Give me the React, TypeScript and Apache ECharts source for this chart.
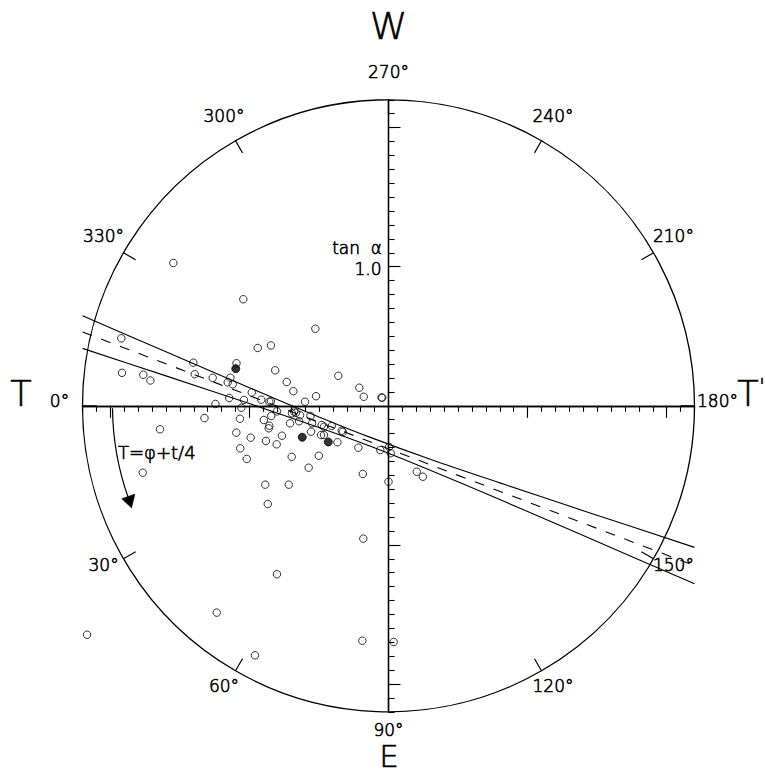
import React, { useEffect, useRef } from "react";
import * as echarts from "echarts";

// open circles: x = amplitude * cos component, y = sin component (tan alpha units)
const openX = [
  -1.547, -1.044, -0.526, -1.921, -0.94, -0.845, -1.403, -1.093, -0.815, -0.361,
  -1.916, -1.763, -1.712, -1.393, -1.264, -1.137, -1.156, -1.12, -0.732, -0.684,
  -0.21, -0.178, -0.05, -0.045, -0.983, -0.915, -0.857, -0.845, -0.521, -0.6,
  -1.04, -1.145, -1.244, -0.802, -0.694, -0.679, -0.665, -0.636, -1.058, -0.896,
  -1.323, -1.068, -0.561, -0.843, -0.643, -0.708, -0.55, -0.557, -0.48, -0.464,
  -0.408, -0.485, -0.464, -0.336, -0.329, -1.094, -0.991, -0.857, -0.861, -0.766,
  -0.881, -0.804, -1.066, -0.696, -0.501, -0.367, -0.217, -0.059, 0.004, 0.016,
  -1.019, -1.643, -1.767, -0.886, -0.717, -0.868, -0.574, -0.185, 0.0, 0.203,
  0.247, -0.181, -0.802, -1.235, -2.167, -0.96, -0.188, 0.037,
];
const openY = [
  1.027, 0.766, 0.554, 0.485, 0.416, 0.434, 0.31, 0.306, 0.255, 0.216,
  0.237, 0.223, 0.182, 0.227, 0.201, 0.202, 0.169, 0.155, 0.171, 0.105,
  0.13, 0.065, 0.06, 0.058, 0.096, 0.044, 0.029, 0.032, 0.069, 0.029,
  0.042, 0.056, 0.013, -0.04, -0.054, -0.041, -0.05, -0.068, -0.014, -0.102,
  -0.088, -0.093, -0.073, -0.073, -0.111, -0.126, -0.126, -0.186, -0.138, -0.15,
  -0.145, -0.21, -0.21, -0.179, -0.188, -0.193, -0.229, -0.143, -0.162, -0.215,
  -0.253, -0.277, -0.306, -0.367, -0.359, -0.262, -0.301, -0.318, -0.296, -0.341,
  -0.382, -0.169, -0.481, -0.567, -0.567, -0.706, -0.445, -0.49, -0.546, -0.474,
  -0.51, -0.955, -1.211, -1.487, -1.646, -1.794, -1.689, -1.698,
];
const filledX = [-1.098, -0.62, -0.433];
const filledY = [0.267, -0.226, -0.26];

// regression line and its confidence band
const meanX = [-2.2, 2.2];
const meanY = [0.531, -1.149];
const bandX = [-2.2, -1.6, -1.0, -0.5, -0.13, 0.3, 0.8, 1.4, 2.2];
const bandUpper = [0.648, 0.388, 0.13, -0.08, -0.227, -0.384, -0.554, -0.754, -1.018];
const bandLower = [0.413, 0.215, 0.016, -0.156, -0.291, -0.463, -0.674, -0.933, -1.28];

// axes
const angleLabels = [0, 30, 60, 90, 120, 150, 180, 210, 240, 270, 300, 330];
const radialMajorTicks = [-2, -1, 1, 2];
const radialMax = 2.2;
const scaleLabel = "1.0";

const CX = 388.5;
const CY = 405.8;
const R = 306;
const FONT = "'DejaVu Sans', 'Liberation Sans', sans-serif";
const FW = 200;

function txt(x: number, y: number, text: string, size: number, align = "center", vAlign = "middle", extra: any = {}) {
  return {
    type: "text",
    x,
    y,
    style: {
      text,
      fill: "#000",
      stroke: "#000",
      lineWidth: 0.6,
      fontFamily: FONT,
      fontWeight: FW,
      fontSize: size,
      align,
      verticalAlign: vAlign,
      textAlign: align,
      textVerticalAlign: vAlign,
      ...extra,
    },
  };
}

export default function App() {
  const ref = useRef<HTMLDivElement>(null);
  useEffect(() => {
    if (!ref.current) return;
    const chart = echarts.init(ref.current, null, { renderer: "svg" });
    const lineStyle = { color: "#000", width: 1.3 };

    const graphics: any[] = [];
    angleLabels.forEach((a) => {
      const t = (a * Math.PI) / 180;
      graphics.push(
        txt(CX + (R + 23) * -Math.cos(t), CY + (R + 23) * Math.sin(t) - 5, `${a}°`, 17)
      );
    });
    graphics.push(txt(CX, 25.5, "W", 38));
    graphics.push(txt(CX + 0.5, 755.5, "E", 31));
    graphics.push(txt(21, 394, "T", 35));
    graphics.push(txt(748, 394, "T", 35));
    graphics.push(txt(759, 386, "'", 22, "left", "middle", { lineHeight: 20 }));
    graphics.push(
      txt(CX - 6.5, 248, "{n|tan  }{a|α}", 17, "right", "middle", {
        rich: {
          n: { fontFamily: FONT, fontWeight: FW, fontSize: 17, fill: "#000", stroke: "#000", lineWidth: 0.6 },
          a: { fontFamily: FONT, fontWeight: FW, fontSize: 17, fill: "#000", stroke: "#000", lineWidth: 0.6 },
        },
      })
    );
    graphics.push(txt(CX - 7, 268.5, scaleLabel, 17, "right"));
    graphics.push(txt(118, 452, "T=φ+t/4", 18, "left"));

    // curved arrow
    const arrR = 276;
    const d2r = Math.PI / 180;
    graphics.push({
      type: "arc",
      shape: { cx: CX, cy: CY, r: arrR, startAngle: (180 - 19.4) * d2r, endAngle: (180 - 0.5) * d2r, clockwise: true },
      style: { stroke: "#000", lineWidth: 1.2, fill: "none" },
    });
    const pt = (th: number, r: number) => [CX - r * Math.cos(th * d2r), CY + r * Math.sin(th * d2r)];
    graphics.push({
      type: "polygon",
      shape: { points: [pt(19.2, 282.5), pt(19.2, 268.5), pt(21.7, 276.5)] },
      style: { fill: "#000", stroke: "#000", lineWidth: 0.5 },
    });

    const mkX = (extra: any) => ({
      type: "value",
      min: -radialMax,
      max: radialMax,
      position: "bottom",
      axisLabel: { show: false },
      splitLine: { show: false },
      axisLine: { show: true, onZero: true, onZeroAxisIndex: 0, lineStyle },
      ...extra,
    });
    const mkY = (extra: any) => ({
      type: "value",
      min: -radialMax,
      max: radialMax,
      position: "left",
      axisLabel: { show: false },
      splitLine: { show: false },
      axisLine: { show: true, onZero: true, onZeroAxisIndex: 0, lineStyle },
      ...extra,
    });

    chart.setOption({
      animation: false,
      backgroundColor: "#fff",
      polar: { center: [CX, CY], radius: R },
      angleAxis: {
        type: "value",
        min: 0,
        max: 360,
        interval: 30,
        startAngle: 180,
        clockwise: false,
        axisLine: { show: true, lineStyle: { color: "#000", width: 1.3 } },
        axisTick: { show: true, inside: true, length: 14, lineStyle: { color: "#000", width: 1.2 } },
        axisLabel: { show: false },
        splitLine: { show: false },
      },
      radiusAxis: { type: "value", min: 0, max: radialMax, show: false },
      grid: { left: CX - R, top: CY - R, width: 2 * R, height: 2 * R, containLabel: false },
      xAxis: [
        mkX({ interval: 0.1, axisTick: { show: true, length: 6, lineStyle: { color: "#000", width: 1.1 } } }),
        mkX({
          axisTick: { show: true, length: 12, customValues: radialMajorTicks, lineStyle: { color: "#000", width: 1.1 } },
        }),
      ],
      yAxis: [
        mkY({ interval: 0.1, axisTick: { show: true, inside: true, length: 6, lineStyle: { color: "#000", width: 1.1 } } }),
        mkY({
          axisTick: { show: true, inside: true, length: 12, customValues: radialMajorTicks, lineStyle: { color: "#000", width: 1.1 } },
        }),
      ],
      graphic: { elements: graphics },
      series: [
        {
          type: "line",
          data: bandX.map((x, i) => [x, bandUpper[i]]),
          smooth: 0.3,
          symbol: "none",
          lineStyle: { color: "#000", width: 1.1 },
          silent: true,
        },
        {
          type: "line",
          data: bandX.map((x, i) => [x, bandLower[i]]),
          smooth: 0.3,
          symbol: "none",
          lineStyle: { color: "#000", width: 1.1 },
          silent: true,
        },
        {
          type: "line",
          data: meanX.map((x, i) => [x, meanY[i]]),
          symbol: "none",
          lineStyle: { color: "#000", width: 1.1, type: [10, 10] },
          silent: true,
        },
        {
          type: "scatter",
          data: openX.map((x, i) => [x, openY[i]]),
          symbol: "circle",
          symbolSize: 7.5,
          itemStyle: { color: "rgba(0,0,0,0)", borderColor: "#000", borderWidth: 1 },
          silent: true,
        },
        {
          type: "scatter",
          data: filledX.map((x, i) => [x, filledY[i]]),
          symbol: "circle",
          symbolSize: 8,
          itemStyle: { color: "#000", borderColor: "#000", borderWidth: 1 },
          silent: true,
        },
      ],
    });
    return () => chart.dispose();
  }, []);
  return (
    <div
      ref={ref}
      style={{ position: "fixed", left: 0, top: 0, width: 765, height: 774, background: "#fff" }}
    />
  );
}
